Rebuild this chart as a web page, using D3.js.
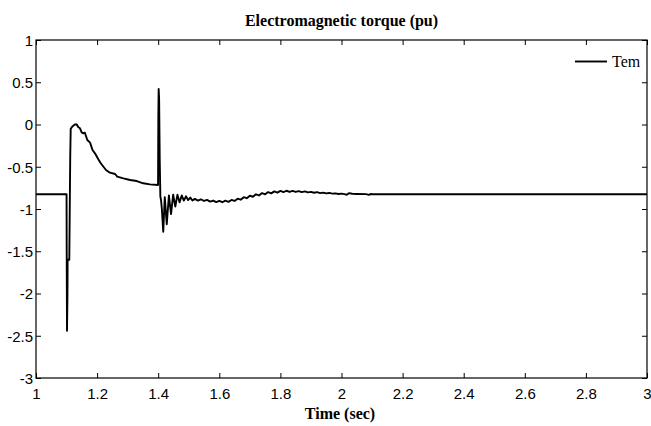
<!DOCTYPE html>
<html><head><meta charset="utf-8">
<script src="https://cdn.jsdelivr.net/npm/d3@7"></script>
<style>body{margin:0;background:#fff}svg{display:block}</style>
</head><body>
<svg id="c" width="651" height="426"></svg>
<script>
const title = "Electromagnetic torque (pu)";
const xLabel = "Time (sec)";
const seriesName = "Tem";
const xTicks = [1,1.2,1.4,1.6,1.8,2,2.2,2.4,2.6,2.8,3];
const yTicks = [1,0.5,0,-0.5,-1,-1.5,-2,-2.5,-3];
// [time, torque]
const torque = [
[1.0,-0.826],[1.1,-0.826],[1.1005,-1.5],[1.1015,-2.44],[1.103,-2.0],[1.1035,-1.6],[1.109,-1.6],[1.112,-0.4],[1.1136,-0.05],
[1.12,-0.02],[1.127,0.0],[1.133,0.002],[1.138,-0.03],[1.144,-0.045],[1.1495,-0.093],[1.155,-0.105],[1.160,-0.097],[1.168,-0.183],
[1.177,-0.215],[1.185,-0.302],[1.193,-0.341],[1.204,-0.412],[1.212,-0.459],[1.229,-0.538],[1.242,-0.570],[1.259,-0.586],[1.266,-0.617],
[1.286,-0.637],[1.308,-0.657],[1.330,-0.669],[1.351,-0.696],[1.373,-0.708],[1.3995,-0.716],
[1.4005,0.1],[1.4015,0.42],[1.403,0.3],[1.405,-0.42],[1.407,-0.85],[1.4095,-0.9],[1.412,-1.0],[1.4165,-1.27],[1.4215,-0.86],[1.428,-1.18],
[1.435,-0.84],[1.442,-1.06],[1.449,-0.83],[1.456,-0.97],[1.463,-0.83],[1.470,-0.92],[1.477,-0.84],[1.484,-0.90],[1.491,-0.85],[1.498,-0.895],
[1.505,-0.865],[1.512,-0.9],[1.52,-0.880],[1.53,-0.900],[1.54,-0.885],[1.55,-0.905],[1.56,-0.892],[1.57,-0.912],[1.58,-0.900],[1.59,-0.918],
[1.60,-0.905],[1.61,-0.920],[1.62,-0.902],[1.63,-0.915],[1.64,-0.893],[1.65,-0.905],[1.66,-0.878],[1.67,-0.890],[1.68,-0.860],[1.69,-0.872],
[1.70,-0.842],[1.71,-0.855],[1.72,-0.826],[1.73,-0.840],[1.74,-0.812],[1.75,-0.826],[1.76,-0.800],[1.77,-0.815],[1.78,-0.792],[1.79,-0.806],
[1.80,-0.786],[1.81,-0.800],[1.82,-0.784],[1.83,-0.798],[1.84,-0.785],[1.85,-0.798],[1.86,-0.788],[1.87,-0.800],[1.88,-0.792],[1.89,-0.804],
[1.90,-0.797],[1.91,-0.808],[1.92,-0.801],[1.93,-0.812],[1.94,-0.806],[1.95,-0.815],[1.96,-0.810],[1.97,-0.818],[1.98,-0.815],[1.99,-0.822],
[2.00,-0.818],[2.01,-0.824],[2.017,-0.832],[2.025,-0.812],[2.035,-0.82],[2.05,-0.822],[2.08,-0.824],[2.09,-0.832],[2.095,-0.822],[2.1,-0.826],
[3.0,-0.826]
];

const svg = d3.select("#c");
const m = {l:36, r:647, t:40, b:378};
const x = d3.scaleLinear().domain([1,3]).range([m.l, m.r]);
const y = d3.scaleLinear().domain([-3,1]).range([m.b, m.t]);
const font = "'Liberation Sans', Arial, sans-serif";
const serif = "'Liberation Serif', 'Times New Roman', serif";
const fmt = d => String(d);

// box
svg.append("rect").attr("x",m.l).attr("y",m.t).attr("width",m.r-m.l).attr("height",m.b-m.t)
  .attr("fill","none").attr("stroke","#000").attr("stroke-width",1.2);

const tl = 5;
const gx = svg.append("g").attr("transform",`translate(0,${m.b})`)
  .call(d3.axisBottom(x).tickValues(xTicks).tickSize(-tl).tickPadding(10).tickFormat(fmt));
const gxt = svg.append("g").attr("transform",`translate(0,${m.t})`)
  .call(d3.axisTop(x).tickValues(xTicks).tickSize(-tl).tickFormat(""));
const gy = svg.append("g").attr("transform",`translate(${m.l},0)`)
  .call(d3.axisLeft(y).tickValues(yTicks).tickSize(-tl).tickPadding(3).tickFormat(fmt));
const gyr = svg.append("g").attr("transform",`translate(${m.r},0)`)
  .call(d3.axisRight(y).tickValues(yTicks).tickSize(-tl).tickFormat(""));
[gx,gxt,gy,gyr].forEach(g=>{
  g.select(".domain").remove();
  g.selectAll(".tick line").attr("stroke","#000").attr("stroke-width",1);
  g.selectAll("text").attr("fill","#000").style("font-family",font).style("font-size","15px");
});
gy.selectAll(".tick text").attr("dy","0.36em");

// line
const line = d3.line().x(d=>x(d[0])).y(d=>y(d[1]));
svg.append("path").datum(torque).attr("d",line).attr("fill","none")
  .attr("stroke","#000").attr("stroke-width",1.9).attr("stroke-linejoin","round");

// title
svg.append("text").attr("x",(m.l+m.r)/2).attr("y",25.5).attr("text-anchor","middle")
  .style("font-family",serif).style("font-weight","bold").style("font-size","16px").text(title);
svg.append("text").attr("x",340).attr("y",419).attr("text-anchor","middle")
  .style("font-family",serif).style("font-weight","bold").style("font-size","16px").text(xLabel);

// legend
svg.append("line").attr("x1",575).attr("x2",607).attr("y1",61.5).attr("y2",61.5)
  .attr("stroke","#000").attr("stroke-width",1.9);
svg.append("text").attr("x",612).attr("y",67).style("font-family",serif)
  .style("font-size","16px").text(seriesName);
</script>
</body></html>
